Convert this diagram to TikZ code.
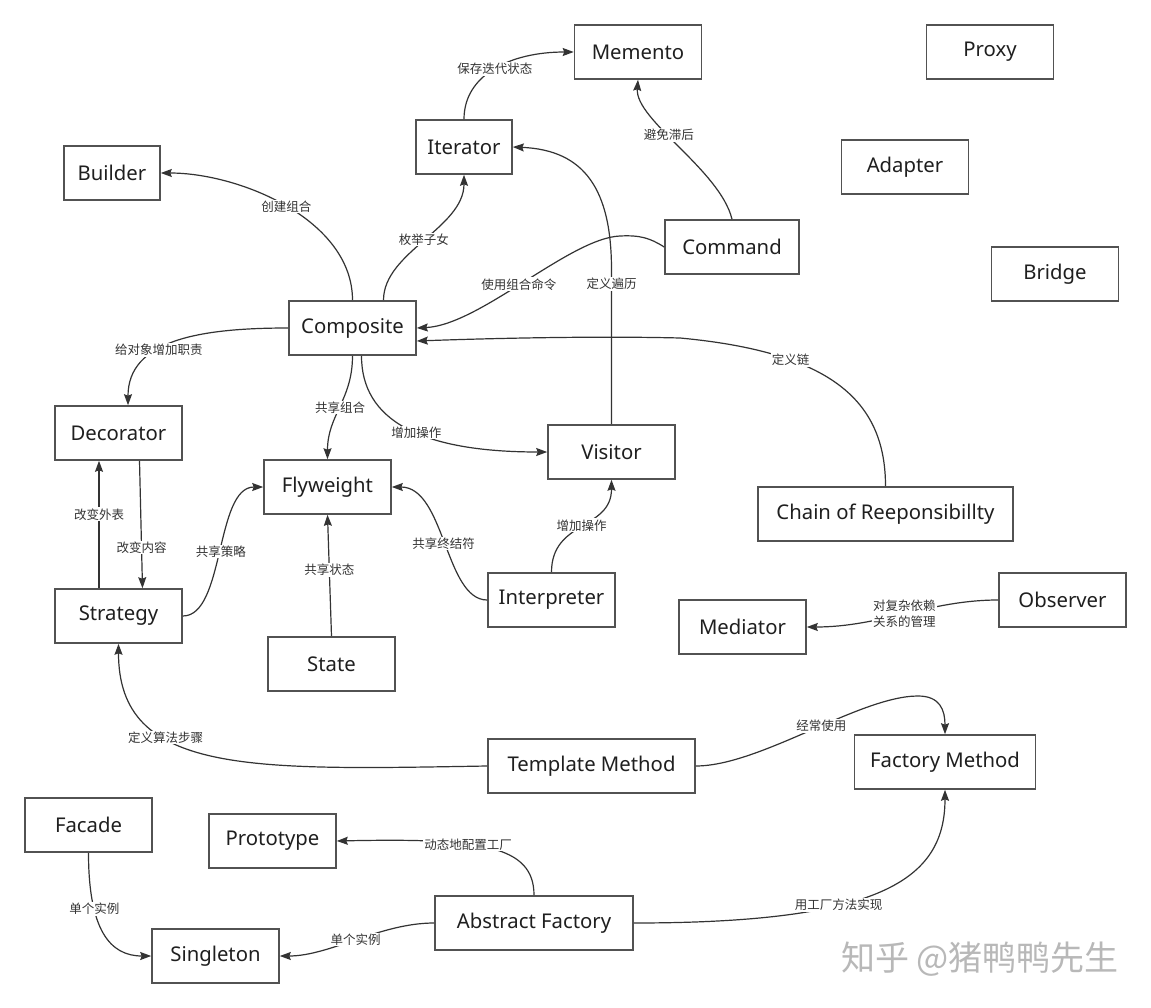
\documentclass[tikz,border=0pt]{standalone}
\usepackage{fontspec}
\setmainfont{Noto Sans}
\newfontfamily\cjk{Noto Sans CJK SC}
\usetikzlibrary{arrows.meta}
\begin{document}
\begin{tikzpicture}[x=1pt,y=-1pt,
  box/.style={draw=black!68, line width=1.6pt, minimum height=54pt, minimum width=127pt,
    inner sep=0pt, font=\fontsize{20.3}{24}\selectfont, text=black!88},
  arr/.style={draw=black!80, line width=1.2pt, -{Stealth[length=11pt,width=8pt,inset=1.5pt]}},
  lbl/.style={fill=white, inner sep=1pt, font=\cjk\fontsize{12.5}{16}\selectfont, text=black!80}]
\useasboundingbox[fill=white] (0,0) rectangle (1151,1008);

% nodes
\node[box] (mem) at (638,52) {Memento};
\node[box] (prx) at (990,52) {Proxy};
\node[box, minimum width=96pt] (itr) at (464,147) {Iterator};
\node[box, minimum width=96pt] (bld) at (112,173) {Builder};
\node[box] (adp) at (905,167) {Adapter};
\node[box, minimum width=134pt] (cmd) at (732,247) {Command};
\node[box] (brg) at (1055,274) {Bridge};
\node[box] (comp) at (352.5,328) {Composite};
\node[box] (dec) at (118.5,433) {Decorator};
\node[box] (vis) at (611.5,452) {Visitor};
\node[box] (fly) at (327.5,487) {Flyweight};
\node[box, minimum width=255pt] (chn) at (885.5,514) {Chain of Reeponsibillty};
\node[box] (str) at (118.5,616) {Strategy};
\node[box] (int) at (551.5,600) {Interpreter};
\node[box] (obs) at (1062.5,600) {Observer};
\node[box] (med) at (742.5,627) {Mediator};
\node[box] (sta) at (331.5,664) {State};
\node[box, minimum width=207pt] (tpl) at (591.5,766) {Template Method};
\node[box, minimum width=181pt] (fac) at (945,762) {Factory Method};
\node[box] (fcd) at (88.5,825) {Facade};
\node[box] (pro) at (272.5,841) {Prototype};
\node[box, minimum width=198pt] (abs) at (534,923) {Abstract Factory};
\node[box] (sgl) at (215.5,956) {Singleton};

% connectors
\draw[arr] (comp.north) .. controls (352.5,220) and (240,173) .. (bld.east) node[lbl,pos=0.5]{创建组合};
\draw[arr] ([xshift=31pt]comp.north) .. controls (383.5,252) and (464,228) .. (itr.south) node[lbl,pos=0.5]{枚举子女};
\draw[arr] (itr.north) .. controls (464,75) and (510,52) .. (mem.west) node[lbl,pos=0.5]{保存迭代状态};
\draw[arr] (cmd.north) .. controls (720,170) and (635,120) .. (mem.south) node[lbl,pos=0.58]{避免滞后};
\draw[arr] (cmd.west) .. controls (650,238) and (640,235) .. (620,236) .. controls (570,238) and (480,325) .. (comp.east) node[lbl,pos=0.52]{使用组合命令};
\draw[arr] (vis.north) -- (611.5,270) node[lbl,pos=0.91]{定义遍历} .. controls (611.5,190) and (585,150) .. (itr.east);
\draw[arr] (chn.north) .. controls (885.5,400) and (830,352) .. (680,338) node[lbl,pos=0.7]{定义链} .. controls (600,336) and (500,338) .. ([yshift=-13pt]comp.east);
\draw[arr] (comp.west) .. controls (200,328) and (128,340) .. ([xshift=9.5pt]dec.north) node[lbl,pos=0.6]{给对象增加职责};
\draw[arr] (comp.south) .. controls (352.5,400) and (327.5,415) .. (fly.north) node[lbl,pos=0.5]{共享组合};
\draw[arr] ([xshift=9pt]comp.south) .. controls (361.5,420) and (420,452) .. (vis.west) node[lbl,pos=0.55]{增加操作};
\draw[arr] ([xshift=21pt]dec.south) -- ([xshift=24pt]str.north) node[lbl,pos=0.68]{改变内容};
\draw[arr] ([xshift=-19.5pt]str.north) -- ([xshift=-19.5pt]dec.south) node[lbl,pos=0.58]{改变外表};
\draw[arr] (str.east) .. controls (225,616) and (215,487) .. (fly.west) node[lbl,pos=0.5]{共享策略};
\draw[arr] (sta.north) -- (fly.south) node[lbl,pos=0.545]{共享状态};
\draw[arr] (int.west) .. controls (445,600) and (445,487) .. (fly.east) node[lbl,pos=0.5]{共享终结符};
\draw[arr] (int.north) .. controls (551.5,520) and (611.5,530) .. (vis.south) node[lbl,pos=0.5]{增加操作};
\draw[arr] (obs.west) .. controls (930,600) and (880,627) .. (med.east) node[lbl,pos=0.5,align=center]{对复杂依赖\\关系的管理};
\draw[arr] (tpl.west) .. controls (250,770) and (118.5,775) .. (str.south) node[lbl,pos=0.65]{定义算法步骤};
\draw[arr] (tpl.east) .. controls (760,766) and (860,696) .. (918,696) node[lbl,pos=0.55]{经常使用} .. controls (940,696) and (945,710) .. (fac.north);
\draw[arr] (abs.east) .. controls (880,923) and (945,880) .. (fac.south) node[lbl,pos=0.37]{用工厂方法实现};
\draw[arr] (abs.north) .. controls (534,845) and (480,838) .. (pro.east) node[lbl,pos=0.6]{动态地配置工厂};
\draw[arr] (abs.west) .. controls (380,923) and (330,956) .. (sgl.east) node[lbl,pos=0.5]{单个实例};
\draw[arr] (fcd.south) .. controls (88.5,930) and (110,956) .. (sgl.west) node[lbl,pos=0.3]{单个实例};

% watermark
\node[font=\cjk\fontsize{34}{40}\selectfont, text=black!28, inner sep=0pt] (wm) at (980,959) {知乎 @猪鸭鸭先生};
\end{tikzpicture}
\end{document}
